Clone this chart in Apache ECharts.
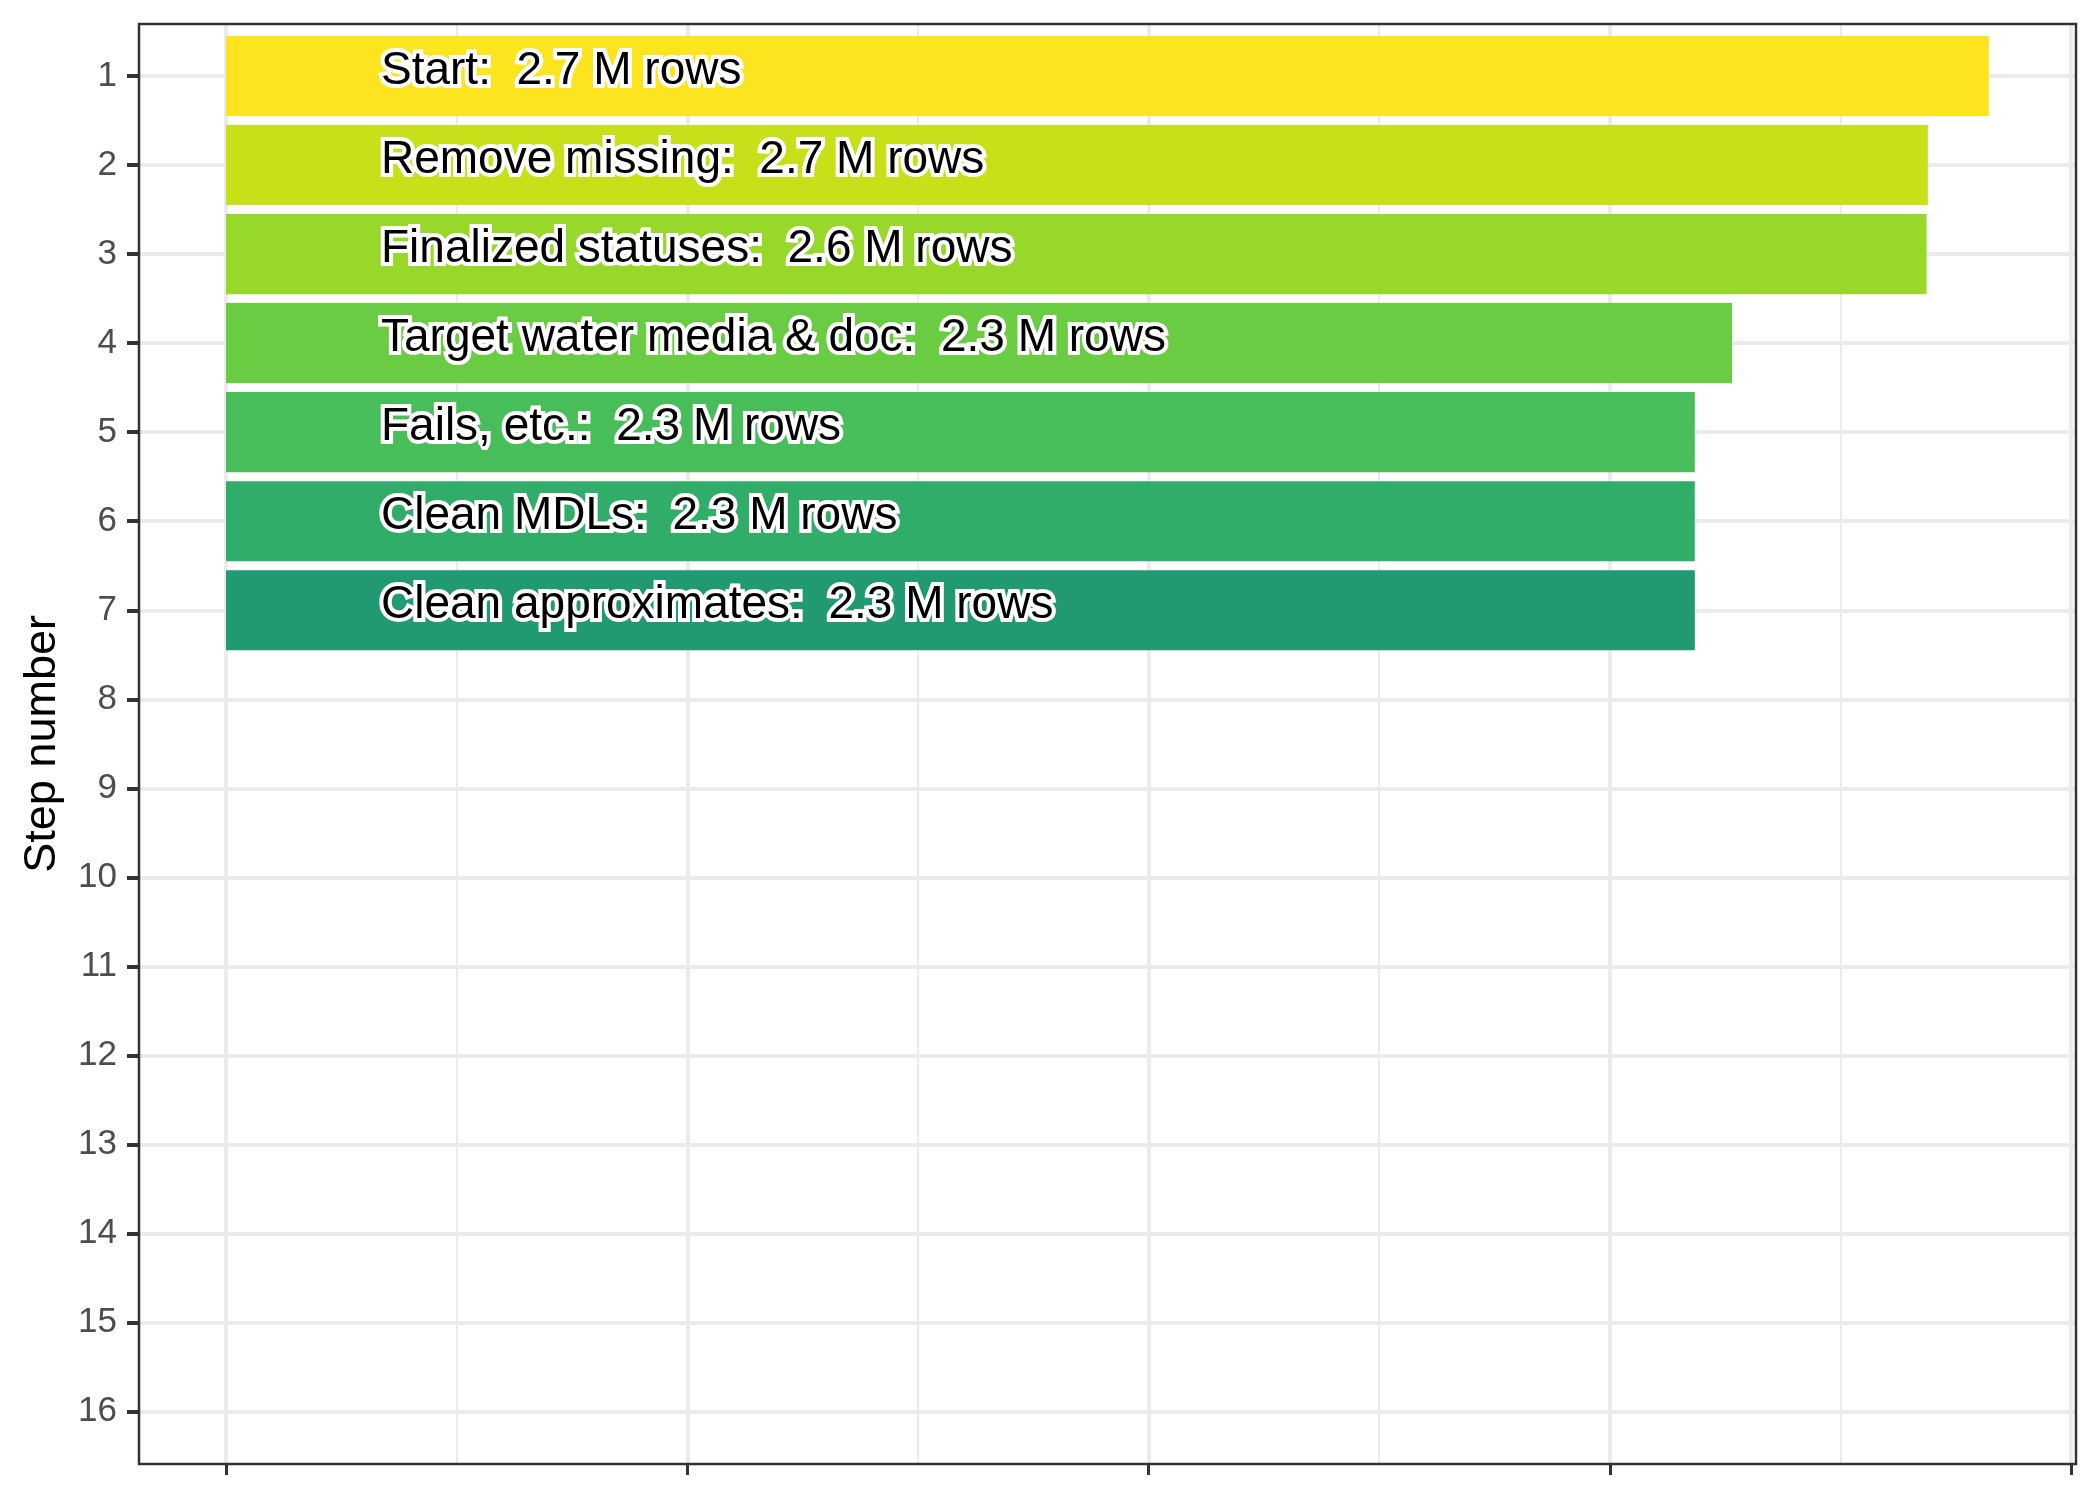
<!DOCTYPE html>
<html>
<head>
<meta charset="utf-8">
<title>Steps</title>
<script src="https://cdn.jsdelivr.net/npm/echarts@6/dist/echarts.min.js"></script>
<style>
  html, body { margin: 0; padding: 0; background: #fff; }
  #chart { width: 2100px; height: 1500px; }
</style>
</head>
<body>
<div id="chart"></div>
<script>
// step numbers shown on the y axis
var stepLabels = ['1','2','3','4','5','6','7','8','9','10','11','12','13','14','15','16'];
// filtering steps and rows left after each one (millions)
var stepNames = ['Start', 'Remove missing', 'Finalized statuses', 'Target water media & doc',
                 'Fails, etc.', 'Clean MDLs', 'Clean approximates'];
var rowsM = [2.746, 2.651, 2.649, 2.346, 2.288, 2.288, 2.288];
var barColors = ['#FCE51E', '#C8E019', '#97D82A', '#6ACC43', '#47BE59', '#30AD69', '#219A72'];

// unlabeled x axis: 4 major steps
var xStep = 0.7185;
var xMax = 4 * xStep;

var font = 'Liberation Sans, Arial, sans-serif';
var gridCol = '#EBEBEB';
var dark = '#333333';

var barData = rowsM.map(function (v, i) {
  return { value: v, itemStyle: { color: barColors[i] } };
});

var option = {
  animation: false,
  backgroundColor: '#fff',
  grid: [
    // panel frame
    { left: 139, top: 24, width: 1937, height: 1440, show: true, z: 5,
      backgroundColor: 'transparent', borderColor: dark, borderWidth: 2.5, outerBoundsMode: 'none' },
    // y labels + horizontal grid
    { left: 139, top: 76, width: 1937, height: 1335.7, outerBoundsMode: 'none' },
    // vertical grid + bottom ticks
    { left: 226, top: 24, width: 1845, height: 1440, outerBoundsMode: 'none' },
    // bars
    { left: 226, top: 31.5, width: 1845, height: 1424.6, outerBoundsMode: 'none' }
  ],
  xAxis: [
    { gridIndex: 0, type: 'value', show: false },
    { gridIndex: 1, type: 'value', show: false },
    { gridIndex: 2, type: 'value', min: 0, max: xMax, interval: xStep,
      axisLine: { show: false },
      axisTick: { show: true, length: 11, lineStyle: { color: dark, width: 3 } },
      axisLabel: { show: false },
      splitLine: { show: true, lineStyle: { color: gridCol, width: 4 } },
      minorTick: { show: false, splitNumber: 2 },
      minorSplitLine: { show: true, lineStyle: { color: gridCol, width: 2 } } },
    { gridIndex: 3, type: 'value', min: 0, max: xMax, show: false }
  ],
  yAxis: [
    { gridIndex: 0, type: 'value', show: false },
    { gridIndex: 1, type: 'category', data: stepLabels, inverse: true, boundaryGap: false,
      name: 'Step number', nameLocation: 'middle', nameRotate: 90, nameGap: 74,
      nameTextStyle: { fontFamily: font, fontSize: 45, color: '#000' },
      axisLine: { show: false },
      axisTick: { show: true, length: 12, alignWithLabel: true, lineStyle: { color: dark, width: 4 } },
      axisLabel: { fontFamily: font, fontSize: 35, color: '#4D4D4D', margin: 22 },
      splitLine: { show: true, lineStyle: { color: gridCol, width: 4 } } },
    { gridIndex: 2, type: 'value', show: false },
    { gridIndex: 3, type: 'category', data: stepLabels, inverse: true, show: false }
  ],
  series: [{
    type: 'bar',
    xAxisIndex: 3,
    yAxisIndex: 3,
    barWidth: '90%',
    data: barData,
    label: {
      show: true,
      position: 'insideLeft',
      distance: 0,
      offset: [155, -5],
      fontFamily: font,
      fontSize: 46,
      color: '#000',
      textBorderColor: '#fff',
      textBorderWidth: 8,
      formatter: function (p) {
        return stepNames[p.dataIndex] + ':  ' + p.value.toFixed(1) + ' M rows';
      }
    }
  }]
};

var chart = echarts.init(document.getElementById('chart'));
chart.setOption(option);
</script>
</body>
</html>
